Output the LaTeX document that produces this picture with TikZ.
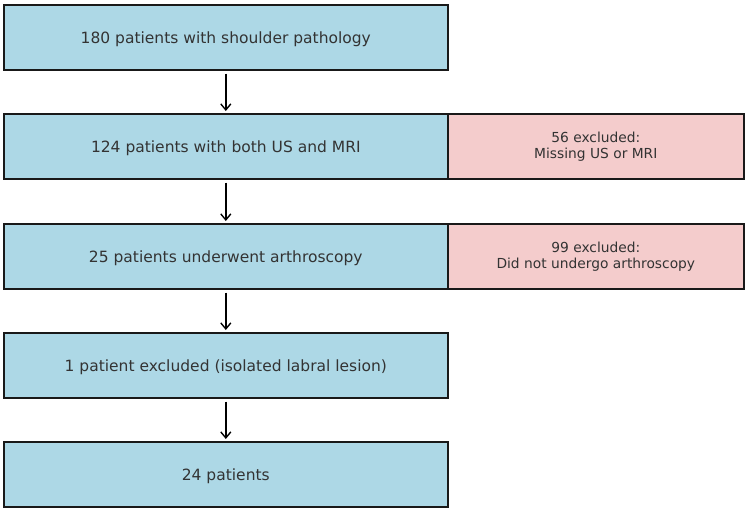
\documentclass[tikz,border=0pt]{standalone}
\usepackage{fontspec}
\setmainfont{DejaVu Sans}
\usetikzlibrary{arrows.meta}
\definecolor{stagefill}{HTML}{ADD8E6}
\definecolor{exclfill}{HTML}{F4CCCC}
\definecolor{txt}{HTML}{333333}
\begin{document}
\begin{tikzpicture}[x=1pt,y=-1pt,
  stagebox/.style={draw=black!90, line width=1.6pt, fill=stagefill, text=txt,
    minimum width=444pt, minimum height=65pt, inner sep=0pt, anchor=north west,
    text depth=0pt, font=\fontsize{15.5}{19}\selectfont},
  exclbox/.style={draw=black!90, line width=1.6pt, fill=exclfill, text=txt,
    minimum width=296pt, minimum height=65pt, inner sep=0pt, anchor=north west,
    align=center, font=\fontsize{13.8}{16}\selectfont},
  flow/.style={-{Straight Barb[length=6pt,width=10pt,line width=1.4pt]}, line width=1.4pt,
    shorten <=3pt, shorten >=2pt}]
\useasboundingbox (0,0) rectangle (750,509);
\node[stagebox] (s1) at (3,4)   {180 patients with shoulder pathology};
\node[stagebox] (s2) at (3,113) {124 patients with both US and MRI};
\node[stagebox] (s3) at (3,223) {25 patients underwent arthroscopy};
\node[stagebox] (s4) at (3,332) {1 patient excluded (isolated labral lesion)};
\node[stagebox] (s5) at (3,441) {24 patients};
\node[exclbox] (e1) at (447,113) {56 excluded:\\Missing US or MRI};
\node[exclbox] (e2) at (447,223) {99 excluded:\\Did not undergo arthroscopy};
\draw[flow] (s1.south) -- (s2.north);
\draw[flow] (s2.south) -- (s3.north);
\draw[flow] (s3.south) -- (s4.north);
\draw[flow] (s4.south) -- (s5.north);
\end{tikzpicture}
\end{document}
